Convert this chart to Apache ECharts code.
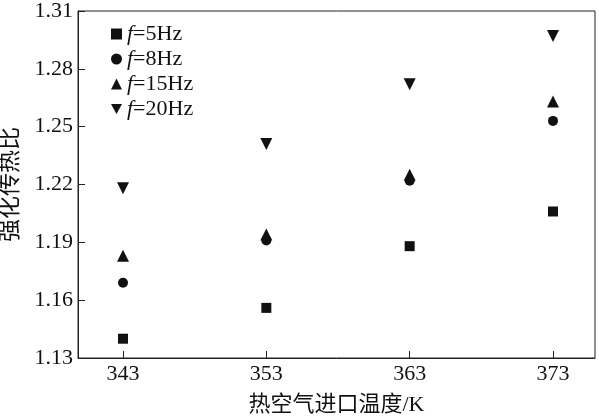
<!DOCTYPE html>
<html>
<head>
<meta charset="utf-8">
<script src="https://cdn.jsdelivr.net/npm/echarts@6/dist/echarts.min.js"></script>
<style>html,body{margin:0;padding:0;background:#fff;}#c{width:599px;height:417px;}</style>
</head>
<body>
<div id="c"></div>
<script>
var temps = [343, 353, 363, 373];
var f5 = [1.140, 1.156, 1.188, 1.206];
var f8 = [1.169, 1.191, 1.222, 1.253];
var f15 = [1.183, 1.194, 1.225, 1.263];
var f20 = [1.218, 1.241, 1.272, 1.297];
var seriesNames = ['f=5Hz', 'f=8Hz', 'f=15Hz', 'f=20Hz'];
var yTicks = [1.13, 1.16, 1.19, 1.22, 1.25, 1.28, 1.31];

var serif = '"Liberation Serif", "Times New Roman", "Noto Sans CJK SC", serif';
function pairs(vals) { return temps.map(function (t, i) { return [t, vals[i]]; }); }
var col = '#111';
var downTri = 'path://M0,0L10,0L5,9Z';
function mk(name, vals, symbol, size) {
  return {
    name: name, type: 'scatter', data: pairs(vals), symbol: symbol, symbolSize: size,
    itemStyle: { color: col, opacity: 1 }, z: 5
  };
}

var chart = echarts.init(document.getElementById('c'));
chart.setOption({
  animation: false,
  backgroundColor: '#fff',
  grid: { left: 78, top: 11, right: 4, bottom: 59, show: true, borderColor: '#222', borderWidth: 1,
    containLabel: false, outerBoundsMode: 'none' },
  legend: {
    orient: 'vertical', left: 106, top: 18, itemWidth: 11, itemHeight: 11, itemGap: 3,
    data: [
      { name: seriesNames[0], icon: 'rect' },
      { name: seriesNames[1], icon: 'circle' },
      { name: seriesNames[2], icon: 'triangle' },
      { name: seriesNames[3], icon: downTri }
    ],
    formatter: function (n) { return '{i|f}' + n.slice(1); },
    textStyle: {
      fontFamily: serif, fontSize: 22, color: '#111',
      rich: { i: { fontStyle: 'italic', fontFamily: serif, fontSize: 22, color: '#111' } }
    }
  },
  xAxis: {
    type: 'value', min: 339.86, max: 375.93,
    name: '热空气进口温度/K', nameLocation: 'middle', nameGap: 36,
    nameTextStyle: { fontFamily: serif, fontSize: 22, color: '#111' },
    axisLine: { show: true, lineStyle: { color: '#222', width: 1 } },
    axisTick: { show: true, inside: true, length: 7, customValues: temps, lineStyle: { color: '#222' } },
    axisLabel: { customValues: temps, fontFamily: serif, fontSize: 22, color: '#111', margin: 5 },
    splitLine: { show: false }
  },
  yAxis: {
    type: 'value', min: 1.13, max: 1.31, interval: 0.03,
    name: '强化传热比', nameLocation: 'middle', nameGap: 56, nameRotate: 90,
    nameTextStyle: { fontFamily: serif, fontSize: 23, color: '#111' },
    axisLine: { show: true, lineStyle: { color: '#222', width: 1 } },
    axisTick: { show: true, inside: true, length: 7, lineStyle: { color: '#222' } },
    axisLabel: { fontFamily: serif, fontSize: 22, color: '#111', margin: 5,
      formatter: function (v) { return v.toFixed(2); } },
    splitLine: { show: false }
  },
  series: [
    mk(seriesNames[0], f5, 'rect', 10),
    mk(seriesNames[1], f8, 'circle', 10),
    mk(seriesNames[2], f15, 'triangle', 12),
    mk(seriesNames[3], f20, downTri, 12)
  ]
});
</script>
</body>
</html>
